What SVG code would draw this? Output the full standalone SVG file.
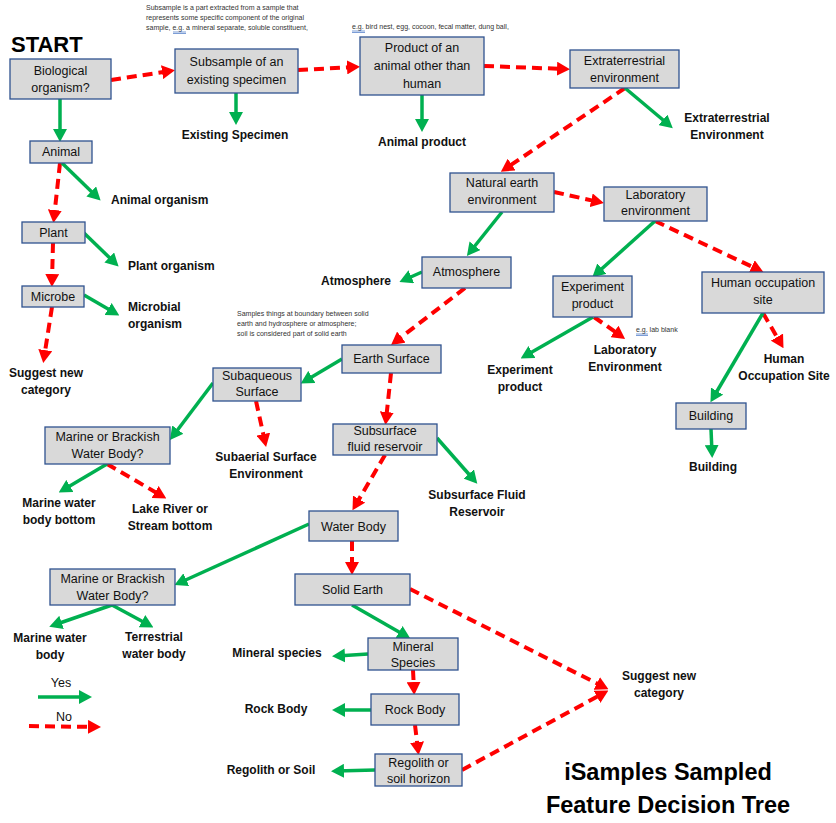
<svg xmlns="http://www.w3.org/2000/svg" width="836" height="823" viewBox="0 0 836 823">
<style>
.box{fill:#D9D9D9;stroke:#2F528F;stroke-width:1.3}
.bt{font-family:"Liberation Sans",Arial,sans-serif;font-size:12.5px;fill:#111;text-anchor:middle}
.lb{font-family:"Liberation Sans",Arial,sans-serif;font-size:12px;font-weight:bold;fill:#111;text-anchor:middle}
.lbl{font-family:"Liberation Sans",Arial,sans-serif;font-size:12px;font-weight:bold;fill:#111}
.sm{font-family:"Liberation Sans",Arial,sans-serif;font-size:7px;fill:#333}
.big{font-family:"Liberation Sans",Arial,sans-serif;font-weight:bold;fill:#000}
.y{stroke:#00B050;stroke-width:3.5;fill:none;marker-end:url(#ga)}
.n{stroke:#FF0000;stroke-width:4;fill:none;stroke-dasharray:10 6;marker-end:url(#ra)}
.ul{stroke:#4472C4;stroke-width:0.7}
</style>
<defs>
<marker id="ga" markerUnits="userSpaceOnUse" markerWidth="13" markerHeight="14" viewBox="0 0 13 14" refX="8" refY="7" orient="auto"><path d="M0,0 L13,7 L0,14 z" fill="#00B050"/></marker>
<marker id="ra" markerUnits="userSpaceOnUse" markerWidth="13" markerHeight="14" viewBox="0 0 13 14" refX="8" refY="7" orient="auto"><path d="M0,0 L13,7 L0,14 z" fill="#FF0000"/></marker>
</defs>
<rect width="836" height="823" fill="#fff"/>

<g id="connectors">
<!-- No (red dashed) -->
<line class="n" x1="111" y1="80" x2="170" y2="71"/>
<line class="n" x1="298" y1="70" x2="355" y2="67"/>
<line class="n" x1="484" y1="66" x2="565" y2="69"/>
<line class="n" x1="625" y1="88" x2="505" y2="169"/>
<line class="n" x1="554" y1="192" x2="599" y2="202"/>
<line class="n" x1="655" y1="221" x2="759" y2="270"/>
<line class="n" x1="60" y1="163" x2="54" y2="218"/>
<line class="n" x1="53" y1="243" x2="52" y2="282"/>
<line class="n" x1="52" y1="307" x2="44" y2="358"/>
<line class="n" x1="465" y1="288" x2="395" y2="342"/>
<line class="n" x1="391" y1="373" x2="386" y2="420"/>
<line class="n" x1="256" y1="401" x2="265" y2="442"/>
<line class="n" x1="385" y1="455" x2="355" y2="506"/>
<line class="n" x1="107" y1="464" x2="162" y2="496"/>
<line class="n" x1="352" y1="541" x2="352" y2="570"/>
<line class="n" x1="410" y1="589" x2="604" y2="687"/>
<line class="n" x1="462" y1="770" x2="604" y2="693"/>
<line class="n" x1="413" y1="670" x2="414" y2="690"/>
<line class="n" x1="415" y1="725" x2="418" y2="750"/>
<line class="n" x1="594" y1="317" x2="621" y2="336"/>
<line class="n" x1="763" y1="313" x2="781" y2="344"/>
<!-- Yes (green) -->
<line class="y" x1="60" y1="99" x2="60" y2="137"/>
<line class="y" x1="236" y1="93" x2="236" y2="120"/>
<line class="y" x1="422" y1="95" x2="422" y2="127"/>
<line class="y" x1="625" y1="88" x2="669" y2="125"/>
<line class="y" x1="62" y1="163" x2="97" y2="197"/>
<line class="y" x1="84" y1="233" x2="115" y2="263"/>
<line class="y" x1="84" y1="295" x2="115" y2="313"/>
<line class="y" x1="502" y1="212" x2="470" y2="252"/>
<line class="y" x1="422" y1="272" x2="404" y2="280"/>
<line class="y" x1="655" y1="221" x2="596" y2="274"/>
<line class="y" x1="342" y1="359" x2="305" y2="381"/>
<line class="y" x1="593" y1="317" x2="525" y2="356"/>
<line class="y" x1="763" y1="313" x2="713" y2="398"/>
<line class="y" x1="711" y1="429" x2="712" y2="453"/>
<line class="y" x1="213" y1="383" x2="173" y2="436"/>
<line class="y" x1="107" y1="464" x2="63" y2="490"/>
<line class="y" x1="437" y1="438" x2="474" y2="480"/>
<line class="y" x1="309" y1="524" x2="179" y2="583"/>
<line class="y" x1="112" y1="605" x2="54" y2="625"/>
<line class="y" x1="112" y1="605" x2="149" y2="625"/>
<line class="y" x1="352" y1="605" x2="406" y2="636"/>
<line class="y" x1="368" y1="654" x2="337" y2="656"/>
<line class="y" x1="371" y1="710" x2="337" y2="710"/>
<line class="y" x1="375" y1="770" x2="336" y2="771"/>
<!-- legend -->
<line class="y" x1="38" y1="697" x2="87" y2="697"/>
<line class="n" x1="29" y1="726" x2="96" y2="727"/>
</g>

<g id="start"><text class="big" x="11" y="52" font-size="22">START</text></g>

<g id="n-bio"><rect class="box" x="10" y="59" width="101" height="40"/><text class="bt" x="60.5" y="75">Biological</text><text class="bt" x="60.5" y="92">organism?</text></g>
<g id="n-subsample"><rect class="box" x="175" y="49" width="123" height="44"/><text class="bt" x="236.5" y="66">Subsample of an</text><text class="bt" x="236.5" y="84">existing specimen</text></g>
<g id="n-product"><rect class="box" x="360" y="37" width="124" height="58"/><text class="bt" x="422" y="52">Product of an</text><text class="bt" x="422" y="70">animal other than</text><text class="bt" x="422" y="88">human</text></g>
<g id="n-extra"><rect class="box" x="570" y="50" width="109" height="38"/><text class="bt" x="624.5" y="65">Extraterrestrial</text><text class="bt" x="624.5" y="82">environment</text></g>
<g id="n-animal"><rect class="box" x="30" y="141" width="62" height="22"/><text class="bt" x="61" y="156">Animal</text></g>
<g id="n-plant"><rect class="box" x="22" y="222" width="63" height="21"/><text class="bt" x="53.5" y="237">Plant</text></g>
<g id="n-microbe"><rect class="box" x="22" y="286" width="62" height="21"/><text class="bt" x="53" y="301">Microbe</text></g>
<g id="n-natural"><rect class="box" x="450" y="173" width="104" height="39"/><text class="bt" x="502" y="187">Natural earth</text><text class="bt" x="502" y="204">environment</text></g>
<g id="n-lab"><rect class="box" x="604" y="187" width="103" height="34"/><text class="bt" x="655.5" y="199">Laboratory</text><text class="bt" x="655.5" y="215">environment</text></g>
<g id="n-atmos"><rect class="box" x="422" y="257" width="89" height="31"/><text class="bt" x="466.5" y="276">Atmosphere</text></g>
<g id="n-experiment"><rect class="box" x="553" y="276" width="79" height="41"/><text class="bt" x="592.5" y="291">Experiment</text><text class="bt" x="592.5" y="308">product</text></g>
<g id="n-human"><rect class="box" x="702" y="272" width="122" height="41"/><text class="bt" x="763" y="287">Human occupation</text><text class="bt" x="763" y="304">site</text></g>
<g id="n-building"><rect class="box" x="676" y="403" width="70" height="26"/><text class="bt" x="711" y="420">Building</text></g>
<g id="n-earthsurface"><rect class="box" x="342" y="345" width="99" height="28"/><text class="bt" x="391.5" y="363">Earth Surface</text></g>
<g id="n-subaqueous"><rect class="box" x="213" y="368" width="88" height="33"/><text class="bt" x="257" y="380">Subaqueous</text><text class="bt" x="257" y="396">Surface</text></g>
<g id="n-subsurface"><rect class="box" x="333" y="424" width="104" height="31"/><text class="bt" x="385" y="435">Subsurface</text><text class="bt" x="385" y="451">fluid reservoir</text></g>
<g id="n-marine1"><rect class="box" x="45" y="427" width="125" height="37"/><text class="bt" x="107.5" y="441">Marine or Brackish</text><text class="bt" x="107.5" y="458">Water Body?</text></g>
<g id="n-waterbody"><rect class="box" x="309" y="511" width="89" height="30"/><text class="bt" x="353.5" y="531">Water Body</text></g>
<g id="n-marine2"><rect class="box" x="50" y="569" width="125" height="36"/><text class="bt" x="112.5" y="583">Marine or Brackish</text><text class="bt" x="112.5" y="600">Water Body?</text></g>
<g id="n-solidearth"><rect class="box" x="295" y="574" width="115" height="31"/><text class="bt" x="352.5" y="594">Solid Earth</text></g>
<g id="n-mineral"><rect class="box" x="368" y="638" width="90" height="32"/><text class="bt" x="413" y="651">Mineral</text><text class="bt" x="413" y="667">Species</text></g>
<g id="n-rock"><rect class="box" x="371" y="694" width="88" height="31"/><text class="bt" x="415" y="714">Rock Body</text></g>
<g id="n-regolith"><rect class="box" x="375" y="754" width="87" height="32"/><text class="bt" x="418.5" y="767">Regolith or</text><text class="bt" x="418.5" y="783">soil horizon</text></g>

<g id="outcomes">
<text class="lb" x="235" y="139">Existing Specimen</text>
<text class="lb" x="422" y="146">Animal product</text>
<text class="lb" x="727" y="122">Extraterrestrial</text><text class="lb" x="727" y="139">Environment</text>
<text class="lbl" x="111" y="204">Animal organism</text>
<text class="lbl" x="128" y="270">Plant organism</text>
<text class="lbl" x="128" y="311">Microbial</text><text class="lbl" x="128" y="328">organism</text>
<text class="lb" x="46" y="377">Suggest new</text><text class="lb" x="46" y="394">category</text>
<text class="lb" x="356" y="285">Atmosphere</text>
<text class="lb" x="520" y="374">Experiment</text><text class="lb" x="520" y="391">product</text>
<text class="lb" x="625" y="354">Laboratory</text><text class="lb" x="625" y="371">Environment</text>
<text class="lb" x="784" y="363">Human</text><text class="lb" x="784" y="380">Occupation Site</text>
<text class="lb" x="713" y="471">Building</text>
<text class="lb" x="266" y="461">Subaerial Surface</text><text class="lb" x="266" y="478">Environment</text>
<text class="lb" x="477" y="499">Subsurface Fluid</text><text class="lb" x="477" y="516">Reservoir</text>
<text class="lb" x="59" y="507">Marine water</text><text class="lb" x="59" y="524">body bottom</text>
<text class="lb" x="170" y="513">Lake River or</text><text class="lb" x="170" y="530">Stream bottom</text>
<text class="lb" x="50" y="642">Marine water</text><text class="lb" x="50" y="659">body</text>
<text class="lb" x="154" y="641">Terrestrial</text><text class="lb" x="154" y="658">water body</text>
<text class="lb" x="277" y="657">Mineral species</text>
<text class="lb" x="276" y="713">Rock Body</text>
<text class="lb" x="271" y="774">Regolith or Soil</text>
<text class="lb" x="659" y="680">Suggest new</text><text class="lb" x="659" y="697">category</text>
</g>

<g id="notes">
<text class="sm" x="146" y="10">Subsample is a part extracted from a sample that</text>
<text class="sm" x="146" y="20">represents some specific component of the original</text>
<text class="sm" x="146" y="30">sample, e.g. a mineral separate, soluble constituent,</text>
<line class="ul" x1="173" y1="32" x2="186" y2="32"/><line class="ul" x1="173" y1="33.5" x2="186" y2="33.5"/>
<text class="sm" x="352" y="29" font-size="7.3">e.g. bird nest, egg, cocoon, fecal matter, dung ball,</text>
<line class="ul" x1="352" y1="31" x2="365" y2="31"/><line class="ul" x1="352" y1="32.5" x2="365" y2="32.5"/>
<text class="sm" x="237" y="316">Samples things at boundary between solid</text>
<text class="sm" x="237" y="326">earth and  hydrosphere or atmosphere;</text>
<text class="sm" x="237" y="336">soil is considered part of solid earth</text>
<text class="sm" x="636" y="332">e.g. lab blank</text>
<line class="ul" x1="636" y1="334" x2="648" y2="334"/><line class="ul" x1="636" y1="335.5" x2="648" y2="335.5"/>
</g>

<g id="legend">
<text class="bt" x="61" y="687">Yes</text>
<text class="bt" x="64" y="721">No</text>
</g>

<g id="title">
<text class="big" x="668" y="780" font-size="23.5" text-anchor="middle">iSamples Sampled</text>
<text class="big" x="668" y="813" font-size="23.5" text-anchor="middle">Feature Decision Tree</text>
</g>
</svg>
